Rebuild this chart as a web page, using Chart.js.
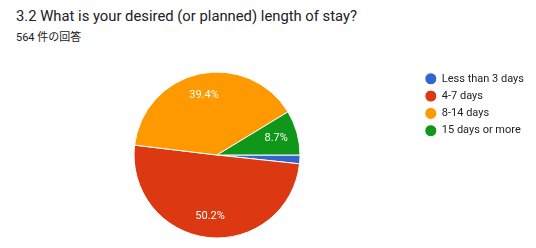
<!DOCTYPE html>
<html>
<head>
<meta charset="utf-8">
<script src="https://cdn.jsdelivr.net/npm/chart.js@4"></script>
<style>
  body { margin: 0; background: #fff; font-family: Roboto, "Noto Sans CJK JP", sans-serif; }
  #wrap { position: relative; width: 536px; height: 248px; }
  #title { position: absolute; left: 16px; top: 7px; font-size: 14.8px; color: #202124; white-space: nowrap; }
  #sub { position: absolute; left: 16px; top: 28px; font-size: 11px; color: #202124; white-space: nowrap; }
  canvas { position: absolute; left: 0; top: 0; }
</style>
</head>
<body>
<div id="wrap">
  <div id="title">3.2 What is your desired (or planned) length of stay?</div>
  <div id="sub">564 件の回答</div>
  <canvas id="pie" width="536" height="248"></canvas>
</div>
<script>
const labels = ["Less than 3 days", "4-7 days", "8-14 days", "15 days or more"];
const values = [1.7, 50.2, 39.4, 8.7];
const colors = ["#3366cc", "#dc3912", "#ff9900", "#109618"];

// percent labels inside the slices
const sliceLabels = {
    id: "sliceLabels",
    afterDatasetsDraw(chart) {
        const ctx = chart.ctx;
        const meta = chart.getDatasetMeta(0);
        ctx.save();
        ctx.fillStyle = "#ffffff";
        ctx.font = "11px Roboto";
        ctx.textAlign = "center";
        ctx.textBaseline = "middle";
        meta.data.forEach((arc, i) => {
            if (values[i] < 5) return;
            const mid = (arc.startAngle + arc.endAngle) / 2;
            const r = arc.outerRadius * 0.74;
            ctx.fillText(values[i].toFixed(1) + "%", arc.x + Math.cos(mid) * r, arc.y + Math.sin(mid) * r);
        });
        ctx.restore();
    }
};

new Chart(document.getElementById("pie"), {
    type: "pie",
    data: {
        labels: labels,
        datasets: [{
            data: values,
            backgroundColor: colors,
            borderColor: "#ffffff",
            borderWidth: 1,
            radius: 83
        }]
    },
    options: {
        responsive: false,
        animation: false,
        rotation: 90,
        layout: { padding: { left: 15, top: 67, bottom: 5, right: 2 } },
        plugins: {
            tooltip: { enabled: false },
            legend: {
                position: "right",
                align: "start",
                labels: {
                    usePointStyle: true,
                    pointStyle: "circle",
                    boxHeight: 8.5,
                    padding: 6.3,
                    color: "#222222",
                    font: { family: "Roboto", size: 11 }
                }
            }
        }
    },
    plugins: [sliceLabels]
});
</script>
</body>
</html>
